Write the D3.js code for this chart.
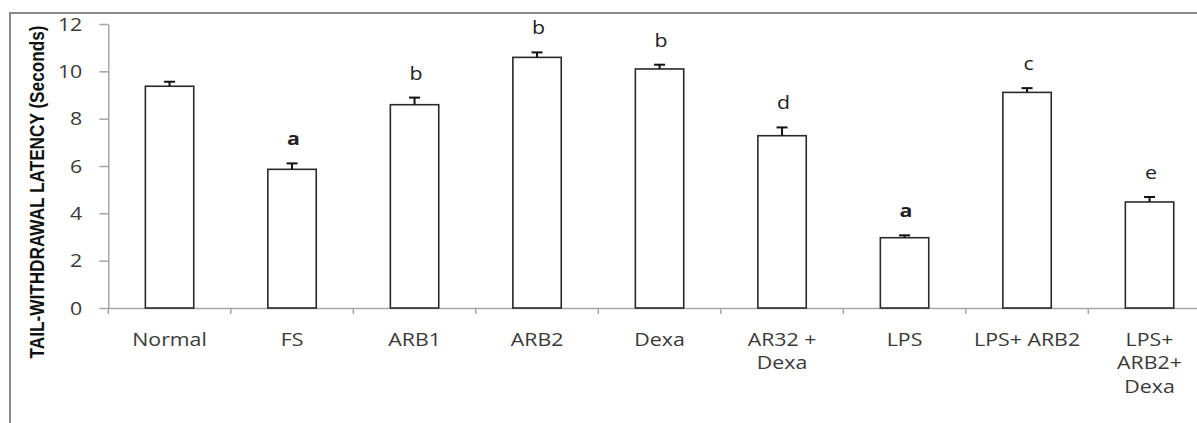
<!DOCTYPE html>
<html>
<head>
<meta charset="utf-8">
<script src="https://cdn.jsdelivr.net/npm/d3@7/dist/d3.min.js"></script>
<style>
  html, body { margin: 0; padding: 0; background: #fff; }
  svg { display: block; }
</style>
</head>
<body>
<svg id="chart" width="1197" height="423"></svg>
<script>
// ---- data ----
const categories = ["Normal", "FS", "ARB1", "ARB2", "Dexa", "AR32 +\nDexa", "LPS", "LPS+ ARB2", "LPS+\nARB2+\nDexa"];
const means = [9.37, 5.86, 8.59, 10.59, 10.1, 7.28, 2.97, 9.11, 4.48];
const errors = [0.19, 0.25, 0.3, 0.21, 0.18, 0.35, 0.1, 0.18, 0.21];
const letters = ["", "a", "b", "b", "b", "d", "a", "c", "e"];
const yTicks = [0, 2, 4, 6, 8, 10, 12];
const yTitle = "TAIL-WITHDRAWAL LATENCY (Seconds)";

// ---- layout ----
const W = 1197, H = 423;
const plot = { left: 108.3, top: 24, bottom: 308, step: 122.5 };
const svg = d3.select("#chart");
const HS = 1.22; // horizontal text stretch of the original rendering
const FONT = "'Open Sans', sans-serif";
const FS = 17.5;

const x = d3.scaleBand()
  .domain(categories)
  .range([plot.left, plot.left + plot.step * categories.length])
  .padding(0);
const y = d3.scaleLinear().domain([0, 12]).range([plot.bottom, plot.top]);
const barW = x.bandwidth() * 0.395;

// outer frame
svg.append("path")
  .attr("d", `M10,${H + 5} L10,13 L${W + 5},13`)
  .attr("fill", "none")
  .attr("stroke", "#8a8a8a")
  .attr("stroke-width", 2);

// y axis
const yAxis = svg.append("g")
  .attr("transform", `translate(${plot.left},0)`)
  .call(d3.axisLeft(y).tickValues(yTicks).tickSize(9).tickSizeOuter(0).tickPadding(0));
yAxis.select(".domain").attr("stroke", "#a6a6a6").attr("stroke-width", 1.5);
yAxis.selectAll(".tick line").attr("stroke", "#a6a6a6").attr("stroke-width", 1.5);
yAxis.selectAll(".tick text")
  .attr("x", 0).attr("dy", "0.36em")
  .attr("transform", `translate(-26,0) scale(${HS},1)`)
  .attr("text-anchor", "end")
  .attr("font-family", FONT)
  .attr("font-size", FS)
  .attr("fill", "#3a3a3a");

// x axis line and boundary ticks
const xAxis = svg.append("g")
  .attr("transform", `translate(0,${plot.bottom})`)
  .call(d3.axisBottom(x).tickSize(0).tickSizeOuter(0).tickFormat(""));
xAxis.select(".domain").attr("stroke", "#a6a6a6").attr("stroke-width", 1.5);
const bounds = categories.map(c => x(c)).concat([x.range()[1]]);
svg.append("g").selectAll("line")
  .data(bounds)
  .join("line")
  .attr("x1", d => d).attr("x2", d => d)
  .attr("y1", plot.bottom).attr("y2", plot.bottom + 6)
  .attr("stroke", "#a6a6a6").attr("stroke-width", 1.5);

// x labels
const xl = svg.append("g").selectAll("text")
  .data(categories)
  .join("text")
  .attr("transform", d => `translate(${x(d) + x.bandwidth() / 2},346) scale(${HS},1)`)
  .attr("text-anchor", "middle")
  .attr("font-family", FONT)
  .attr("font-size", FS)
  .attr("fill", "#3a3a3a");
xl.each(function(d) {
  const t = d3.select(this);
  d.split("\n").forEach((line, i) => {
    t.append("tspan").attr("x", 0).attr("y", i * 23.5).text(line);
  });
});

// bars
const rows = categories.map((c, i) => ({ c, m: means[i], e: errors[i], l: letters[i] }));
const cx = d => x(d.c) + x.bandwidth() / 2;

svg.append("g").selectAll("rect")
  .data(rows)
  .join("rect")
  .attr("x", d => cx(d) - barW / 2)
  .attr("y", d => y(d.m))
  .attr("width", barW)
  .attr("height", d => y(0) - y(d.m))
  .attr("fill", "#fff")
  .attr("stroke", "#2a2a2a")
  .attr("stroke-width", 1.6);

// error bars
const eb = svg.append("g").selectAll("g")
  .data(rows)
  .join("g")
  .attr("stroke", "#111")
  .attr("stroke-width", 2);
eb.append("line")
  .attr("x1", d => cx(d)).attr("x2", d => cx(d))
  .attr("y1", d => y(d.m)).attr("y2", d => y(d.m + d.e));
eb.append("line")
  .attr("x1", d => cx(d) - 5.5).attr("x2", d => cx(d) + 5.5)
  .attr("y1", d => y(d.m + d.e)).attr("y2", d => y(d.m + d.e));

// significance letters
svg.append("g").selectAll("text")
  .data(rows.filter(d => d.l))
  .join("text")
  .attr("transform", d => `translate(${cx(d) + 1.5},${y(d.m + d.e) - 18}) scale(${HS},1)`)
  .attr("text-anchor", "middle")
  .attr("font-family", FONT)
  .attr("font-size", FS)
  .attr("font-weight", d => d.l === "a" ? 700 : 400)
  .attr("fill", "#222")
  .text(d => d.l);

// y title
svg.append("text")
  .attr("transform", "translate(44,192) rotate(-90) scale(0.86,1)")
  .attr("text-anchor", "middle")
  .attr("font-family", "'Liberation Sans Narrow', 'Arial Narrow', sans-serif")
  .attr("font-weight", 700)
  .attr("font-size", 20)
  .attr("fill", "#111")
  .text(yTitle);
</script>
</body>
</html>
